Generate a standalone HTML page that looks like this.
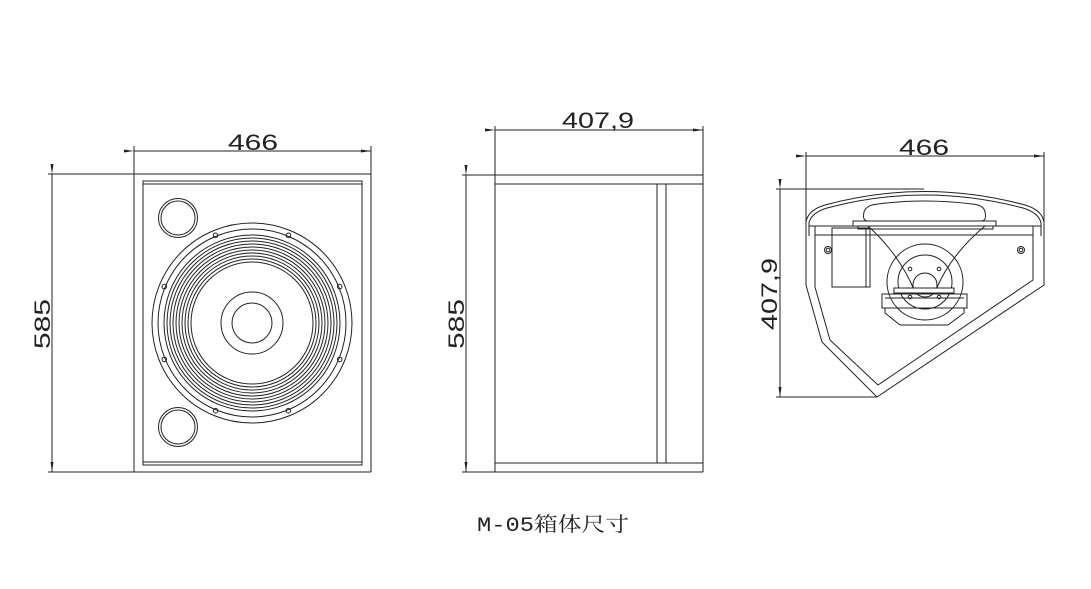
<!DOCTYPE html>
<html><head><meta charset="utf-8"><style>
html,body{margin:0;padding:0;background:#fff;}
svg{display:block;}
text{font-family:"Liberation Sans",sans-serif;fill:#222;}
</style></head><body>
<svg width="1091" height="589" viewBox="0 0 1091 589" xmlns="http://www.w3.org/2000/svg">
<defs>
<marker id="ar" markerWidth="10" markerHeight="6" refX="10" refY="3" orient="auto" markerUnits="userSpaceOnUse">
<path d="M0,1.5 L10,3 L0,4.5 Z" fill="#222"/></marker>
</defs>
<g stroke="#222" stroke-width="1" fill="none">
<!-- FRONT VIEW -->
<line x1="134" y1="151" x2="371" y2="151" marker-start="url(#ar)" marker-end="url(#ar)"/>
<line x1="134" y1="146" x2="134" y2="472"/>
<line x1="371" y1="146" x2="371" y2="472"/>
<line x1="52" y1="174" x2="52" y2="472" marker-start="url(#ar)" marker-end="url(#ar)"/>
<line x1="48" y1="174" x2="371" y2="174"/>
<line x1="48" y1="472" x2="371" y2="472"/>
<rect x="143" y="181" width="219" height="284"/>
<line x1="143" y1="184" x2="362" y2="184"/>
<line x1="143" y1="462" x2="362" y2="462"/>
<circle cx="178" cy="218" r="19.5"/><circle cx="178" cy="218" r="17"/>
<circle cx="178" cy="427" r="19.5"/><circle cx="178" cy="427" r="17"/>
<circle cx="252" cy="323" r="100"/>
<circle cx="252" cy="323" r="94"/>
<circle cx="252" cy="323" r="88"/>
<circle cx="252" cy="323" r="85"/>
<circle cx="252" cy="323" r="82"/>
<circle cx="252" cy="323" r="79"/>
<circle cx="252" cy="323" r="76"/>
<circle cx="252" cy="323" r="73"/>
<circle cx="252" cy="323" r="70"/>
<circle cx="252" cy="323" r="67"/>
<circle cx="252" cy="323" r="64"/>
<circle cx="252" cy="323" r="61"/>
<circle cx="252" cy="323" r="31"/>
<circle cx="252" cy="323" r="20"/>
<g>
<circle cx="215.6" cy="235.3" r="2.3"/><circle cx="288.4" cy="235.3" r="2.3"/>
<circle cx="164.3" cy="286.6" r="2.3"/><circle cx="339.7" cy="286.6" r="2.3"/>
<circle cx="164.3" cy="359.4" r="2.3"/><circle cx="339.7" cy="359.4" r="2.3"/>
<circle cx="215.6" cy="410.7" r="2.3"/><circle cx="288.4" cy="410.7" r="2.3"/>
</g>
<!-- SIDE VIEW -->
<line x1="495" y1="130" x2="703" y2="130" marker-start="url(#ar)" marker-end="url(#ar)"/>
<line x1="495" y1="126" x2="495" y2="472"/>
<line x1="703" y1="126" x2="703" y2="472"/>
<line x1="466" y1="175" x2="466" y2="472" marker-start="url(#ar)" marker-end="url(#ar)"/>
<line x1="462" y1="175" x2="703" y2="175"/>
<line x1="462" y1="472" x2="703" y2="472"/>
<line x1="495" y1="184" x2="703" y2="184"/>
<line x1="495" y1="463" x2="703" y2="463"/>
<line x1="657" y1="184" x2="657" y2="463"/>
<line x1="666" y1="184" x2="666" y2="463"/>
<!-- TOP VIEW -->
<line x1="806" y1="156" x2="1044" y2="156" marker-start="url(#ar)" marker-end="url(#ar)"/>
<line x1="806" y1="152" x2="806" y2="228"/>
<line x1="1044" y1="152" x2="1044" y2="228"/>
<line x1="780" y1="189" x2="780" y2="397" marker-start="url(#ar)" marker-end="url(#ar)"/>
<line x1="776" y1="189" x2="924" y2="189"/>
<line x1="776" y1="397" x2="877" y2="397"/>
<path d="M806,236 L806,222 Q808,210 825,205 Q924,178 1025,205 Q1042,210 1044,222 L1044,236"/>
<path d="M809,236 L809,223 Q811,213 827,208 Q924,182 1023,208 Q1039,213 1041,223 L1041,236"/>
<path d="M806,236 L806,285 L822,342 L877,397 L1044,285 L1044,236"/>
<path d="M815,226 L815,287 L830,340 L878,385 L1033,280 L1033,226"/>
<line x1="809" y1="226" x2="1041" y2="226"/>
<line x1="815" y1="235" x2="1033" y2="235"/>
<rect x="853" y="221" width="143" height="5"/>
<rect x="858" y="226" width="135" height="3"/>
<path d="M868,221 Q862,221 864,212 Q866,205 878,204 Q924,198 972,204 Q984,205 985,212 Q987,221 981,221"/>
<rect x="832" y="228" width="38" height="59"/>
<line x1="866" y1="228" x2="866" y2="287"/>
<circle cx="828" cy="250" r="3.5"/><circle cx="828" cy="250" r="1.8"/>
<circle cx="1021" cy="250" r="3.5"/><circle cx="1021" cy="250" r="1.8"/>
<path d="M868,226 Q900,255 915,292"/>
<path d="M985,226 Q950,255 935,292"/>
<circle cx="925" cy="282" r="38"/>
<circle cx="925" cy="282" r="27"/>
<circle cx="925" cy="285" r="12"/>
<circle cx="910" cy="269" r="1.8"/><circle cx="939" cy="269" r="1.8"/>
<circle cx="910" cy="297" r="1.8"/><circle cx="939" cy="297" r="1.8"/>
<rect x="894" y="288" width="60" height="5" fill="#fff"/>
<rect x="882" y="294" width="85" height="14"/>
<line x1="885" y1="298" x2="964" y2="298"/>
<path d="M885,308 L885,313 L900,325 L948,325 L964,313 L964,308"/>
</g>
<text x="253" y="150" font-size="22" text-anchor="middle" textLength="50" lengthAdjust="spacingAndGlyphs">466</text>
<text transform="translate(50,324) rotate(-90)" font-size="22" text-anchor="middle" textLength="50" lengthAdjust="spacingAndGlyphs">585</text>
<text x="598" y="128" font-size="22" text-anchor="middle" textLength="72" lengthAdjust="spacingAndGlyphs">407,9</text>
<text transform="translate(464,324) rotate(-90)" font-size="22" text-anchor="middle" textLength="50" lengthAdjust="spacingAndGlyphs">585</text>
<text x="924" y="155" font-size="22" text-anchor="middle" textLength="50" lengthAdjust="spacingAndGlyphs">466</text>
<text transform="translate(777,294) rotate(-90)" font-size="22" text-anchor="middle" textLength="72" lengthAdjust="spacingAndGlyphs">407,9</text>
<text x="477" y="531" font-size="20" style='font-family:"Liberation Mono","Noto Serif CJK SC",serif' textLength="152" lengthAdjust="spacingAndGlyphs">M-05箱体尺寸</text>
</svg>
</body></html>
